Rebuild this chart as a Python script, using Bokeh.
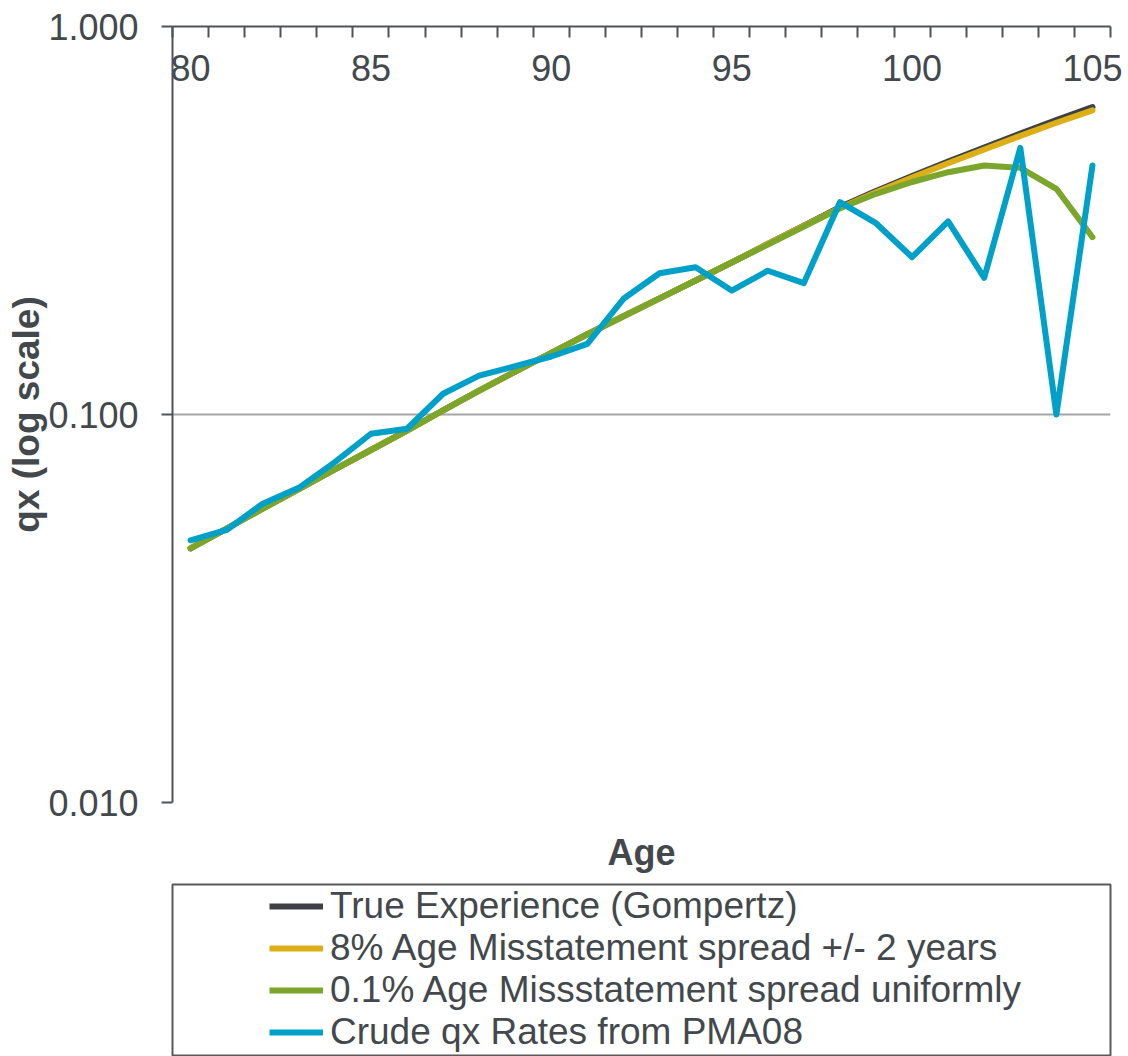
from bokeh.plotting import figure
from bokeh.layouts import column
from bokeh.models import (Range1d, FixedTicker, LinearAxis, PrintfTickFormatter,
                          Legend, LegendItem)
from bokeh.embed import file_html
from bokeh.resources import INLINE

# ---- data -------------------------------------------------------------
ages = list(range(80, 106))

true_gompertz = [0.0452, 0.0508, 0.0572, 0.0642, 0.0722, 0.0810, 0.0909, 0.1025,
                 0.1152, 0.1290, 0.1442, 0.1610, 0.1792, 0.1992, 0.2215, 0.2465,
                 0.2750, 0.3069, 0.3425, 0.3767, 0.4118, 0.4489, 0.4877, 0.5299,
                 0.5741, 0.6200]

misstated_8pct = [0.0452, 0.0508, 0.0572, 0.0642, 0.0722, 0.0810, 0.0909, 0.1025,
                  0.1152, 0.1290, 0.1442, 0.1610, 0.1792, 0.1992, 0.2215, 0.2465,
                  0.2750, 0.3060, 0.3405, 0.3740, 0.4080, 0.4440, 0.4820, 0.5225,
                  0.5650, 0.6080]

misstated_uniform = [0.0452, 0.0508, 0.0572, 0.0642, 0.0722, 0.0810, 0.0909, 0.1025,
                     0.1152, 0.1290, 0.1442, 0.1610, 0.1792, 0.1992, 0.2215, 0.2465,
                     0.2740, 0.3050, 0.3400, 0.3705, 0.3974, 0.4212, 0.4383, 0.4323,
                     0.3817, 0.2864]

crude_pma08 = [0.0474, 0.0504, 0.0589, 0.0647, 0.0754, 0.0892, 0.0919, 0.1131,
               0.1260, 0.1332, 0.1411, 0.1521, 0.1987, 0.2312, 0.2397, 0.2087,
               0.2347, 0.2181, 0.3525, 0.3112, 0.2543, 0.3144, 0.2251, 0.4869,
               0.1000, 0.4383]

series = [true_gompertz, misstated_8pct, misstated_uniform, crude_pma08]
series_labels = ["True Experience (Gompertz)",
                 "8% Age Misstatement spread +/- 2 years",
                 "0.1% Age Missstatement spread uniformly",
                 "Crude qx Rates from PMA08"]
series_colors = ["#3d4145", "#ddaf16", "#7ba62b", "#00a0c8"]

x_label_ticks = [80, 85, 90, 95, 100, 105]
y_ticks = [0.01, 0.1, 1.0]

# ---- style ------------------------------------------------------------
FONT = "Liberation Sans"
TEXT = "#43484c"
AXIS = "#4e5357"
LINE_W = 6

p = figure(width=1128, height=880,
           x_range=Range1d(ages[0] - 0.5, ages[-1] + 0.5),
           y_range=Range1d(y_ticks[0], y_ticks[-1]),
           y_axis_type="log", x_axis_location="above",
           output_backend="svg", toolbar_location=None,
           min_border_left=171, min_border_right=18,
           min_border_top=26, min_border_bottom=78)
p.outline_line_color = None

# category axis along the top: boundary ticks, labels every five years
xa = p.xaxis[0]
xa.ticker = FixedTicker(ticks=x_label_ticks,
                        minor_ticks=[a - 0.5 for a in ages] + [ages[-1] + 0.5])
xa.major_tick_in = 0
xa.major_tick_out = 0
xa.minor_tick_in = 11
xa.minor_tick_out = 0
xa.minor_tick_line_width = 2
xa.minor_tick_line_color = AXIS
xa.axis_line_width = 2
xa.axis_line_color = AXIS
xa.major_label_standoff = -54
xa.major_label_text_font = FONT
xa.major_label_text_font_size = "36px"
xa.major_label_text_color = TEXT

# log value axis
ya = p.yaxis[0]
ya.ticker = FixedTicker(ticks=y_ticks, minor_ticks=[])
ya.formatter = PrintfTickFormatter(format="%.3f")
ya.major_tick_in = 0
ya.major_tick_out = 11
ya.minor_tick_in = 0
ya.minor_tick_out = 0
ya.major_tick_line_width = 2
ya.major_tick_line_color = AXIS
ya.axis_line_width = 2
ya.axis_line_color = AXIS
ya.major_label_standoff = 23
ya.major_label_text_font = FONT
ya.major_label_text_font_size = "36px"
ya.major_label_text_color = TEXT
ya.axis_label = "qx (log scale)"
ya.axis_label_text_font = FONT
ya.axis_label_text_font_size = "37px"
ya.axis_label_text_font_style = "bold"
ya.axis_label_text_color = TEXT
ya.axis_label_standoff = -2

p.xgrid.visible = False
p.ygrid.grid_line_color = "#a6a6a6"
p.ygrid.grid_line_width = 2

# bottom title only
age_axis = LinearAxis(ticker=FixedTicker(ticks=[]), axis_label="Age",
                      axis_line_color=None, major_tick_line_color=None,
                      minor_tick_line_color=None, major_tick_out=0,
                      minor_tick_out=0, major_label_standoff=0,
                      major_label_text_font_size="0px",
                      axis_label_standoff=29,
                      axis_label_text_font=FONT,
                      axis_label_text_font_size="36px",
                      axis_label_text_font_style="bold",
                      axis_label_text_color=TEXT)
p.add_layout(age_axis, "below")

# ---- lines --------------------------------------------------------------
for vals, col in zip(series, series_colors):
    p.line(ages, vals, line_color=col, line_width=LINE_W,
           line_join="round", line_cap="round")

# ---- legend panel (boxed, under the chart) --------------------------------
# The key lines carry the same series, but this panel's ranges keep them out
# of view, so only their legend swatches show.
lg = figure(width=1128, height=176, x_range=Range1d(0, 1), y_range=Range1d(0, 1),
            x_axis_location=None, y_axis_location=None,
            output_backend="svg", toolbar_location=None,
            min_border_left=172, min_border_right=16,
            min_border_top=4, min_border_bottom=0)
lg.grid.visible = False
lg.outline_line_color = "#595959"
lg.outline_line_width = 2

keys = [lg.line(ages, vals, line_color=col, line_width=LINE_W)
        for vals, col in zip(series, series_colors)]
legend = Legend(items=[LegendItem(label=lab, renderers=[r])
                       for lab, r in zip(series_labels, keys)],
                location=(97, 3), orientation="vertical",
                padding=0, spacing=0, margin=0,
                glyph_width=54, glyph_height=40, label_height=40,
                label_standoff=7,
                label_text_font=FONT, label_text_font_size="37px",
                label_text_color=TEXT,
                border_line_color=None, background_fill_alpha=0)
lg.add_layout(legend, "center")

open("out.html", "w").write(file_html(column(p, lg, spacing=0), INLINE))
